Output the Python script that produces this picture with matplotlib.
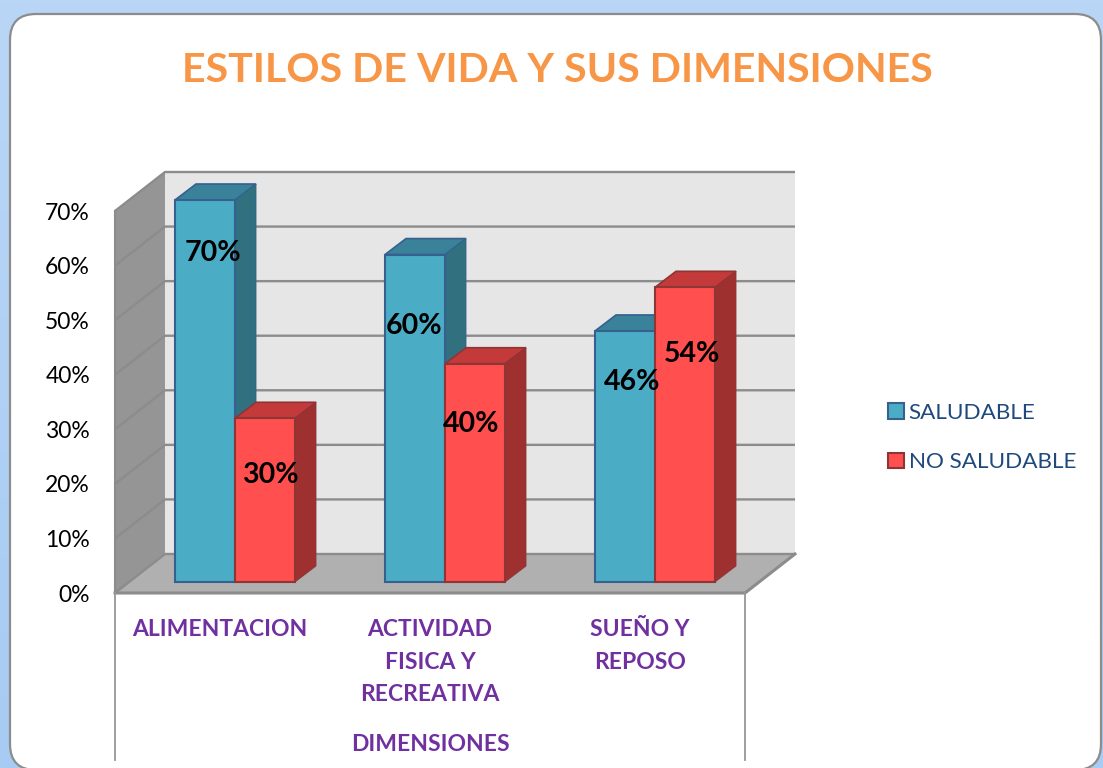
import matplotlib.pyplot as plt
import numpy as np
from matplotlib.patches import FancyBboxPatch, Patch, Polygon

# Chart values
categories = ["ALIMENTACION", "ACTIVIDAD\nFISICA Y\nRECREATIVA", "SUEÑO Y\nREPOSO"]
saludable = [70, 60, 46]
no_saludable = [30, 40, 54]
y_ticks = [0, 10, 20, 30, 40, 50, 60, 70]

W, H = 1103, 768
plt.rcParams["font.family"] = ["Lato", "DejaVu Sans"]

fig = plt.figure(figsize=(W / 100, H / 100), dpi=100)

# Background panel, in pixel coordinates
bg = fig.add_axes([0, 0, 1, 1], zorder=0)
bg.set_xlim(0, W)
bg.set_ylim(H, 0)
bg.axis("off")
grad = np.linspace(0, 1, 256).reshape(-1, 1)
bg.imshow(grad, extent=(0, W, H, 0), aspect="auto", cmap=plt.cm.colors.LinearSegmentedColormap.from_list(
    "blue", ["#B9D6F6", "#A8CBF3"]))
bg.set_xlim(0, W)
bg.set_ylim(H, 0)
panel = FancyBboxPatch((10, 14), 1091, 756, boxstyle="round,pad=0,rounding_size=26",
                       facecolor="white", edgecolor="#8C8C8C", linewidth=1.6)
bg.add_patch(panel)
bg.text(557, 71, "ESTILOS DE VIDA Y SUS DIMENSIONES", color="#F79646", fontsize=29.6,
        fontweight="bold", ha="center", va="center")

# Front plane of the 3D box
left, right, top, bottom = 115, 745, 211, 593
ax = fig.add_axes([left / W, 1 - bottom / H, (right - left) / W, (bottom - top) / H], zorder=1)
ax.set_xlim(0, 3)
ax.set_ylim(0, 70)
ax.patch.set_visible(False)
for s in ax.spines.values():
    s.set_visible(False)

px = 3 / (right - left)
py = 70 / (bottom - top)
wall_dx, wall_dy = 50 * px, 39 * py
bar_dx, bar_dy = 21 * px, 16 * py
base = 11 * py
bar_w = 60 * px
bar_left = 60 * px

GRID = "#8C8C8C"


def poly(points, color, z, edge="none", lw=0):
    ax.add_patch(Polygon(points, closed=True, facecolor=color, edgecolor=edge,
                         linewidth=lw, zorder=z, clip_on=False))


# Walls and floor
poly([(wall_dx, wall_dy), (3 + wall_dx, wall_dy), (3 + wall_dx, 70 + wall_dy), (wall_dx, 70 + wall_dy)],
     "#E6E6E6", 1)
poly([(0, 0), (wall_dx, wall_dy), (wall_dx, 70 + wall_dy), (0, 70)], "#959595", 1)
poly([(0, 0), (3, 0), (3 + wall_dx, wall_dy), (wall_dx, wall_dy)], "#B0B0B0", 1)

for t in y_ticks:
    ax.plot([0, wall_dx, 3 + wall_dx], [t, t + wall_dy, t + wall_dy], color=GRID, lw=1.7,
            zorder=2, clip_on=False, solid_capstyle="butt")
ax.plot([0, 3, 3 + wall_dx], [0, 0, wall_dy], color=GRID, lw=2.2, zorder=2, clip_on=False)
ax.plot([0, 0], [0, 70], color=GRID, lw=1.5, zorder=2, clip_on=False)

# Category separators below the floor
low = -167 * py
ax.plot([0, 0], [0, low], color="#969696", lw=1.3, clip_on=False, zorder=2)
ax.plot([3, 3], [0, low], color="#969696", lw=1.3, clip_on=False, zorder=2)


def bars3d(x_offset, values, face, top_c, side_c, edge, z):
    xs = np.arange(len(values)) + x_offset
    ax.bar(xs, values, bar_w, bottom=base, align="edge", color=face, edgecolor=edge,
           linewidth=1.5, zorder=z + 1, clip_on=False)
    for x, v in zip(xs, values):
        y = base + v
        poly([(x, y), (x + bar_w, y), (x + bar_w + bar_dx, y + bar_dy), (x + bar_dx, y + bar_dy)],
             top_c, z, edge, 1.2)
        poly([(x + bar_w, base), (x + bar_w + bar_dx, base + bar_dy), (x + bar_w + bar_dx, y + bar_dy),
              (x + bar_w, y)], side_c, z, edge, 0.6)


bars3d(bar_left, saludable, "#4BACC6", "#3A8299", "#31707F", "#35608F", 3)
bars3d(bar_left + bar_w, no_saludable, "#FF4F4F", "#C43A3A", "#9E3030", "#8E3535", 5)

# Data labels were placed by hand in the original, so offsets are from each bar's top
offsets_blue = [(8, 53), (-1, 71), (7, 51)]
offsets_red = [(5, 57), (-4, 60), (7, 67)]
for i, (a, b) in enumerate(zip(saludable, no_saludable)):
    ax.annotate(f"{a}%", (i + bar_left + bar_w / 2, base + a), xycoords="data",
                xytext=(offsets_blue[i][0] * 0.72, -offsets_blue[i][1] * 0.72), textcoords="offset points",
                ha="center", va="center", fontsize=20.5, fontweight="bold", color="black", zorder=9,
                annotation_clip=False)
    ax.annotate(f"{b}%", (i + bar_left + bar_w * 1.5, base + b), xycoords="data",
                xytext=(offsets_red[i][0] * 0.72, -offsets_red[i][1] * 0.72), textcoords="offset points",
                ha="center", va="center", fontsize=20.5, fontweight="bold", color="black", zorder=9,
                annotation_clip=False)

# Axes text
ax.set_yticks(y_ticks)
ax.set_yticklabels([f"{t}%" for t in y_ticks], fontsize=16.5, color="black")
ax.tick_params(axis="y", length=0, pad=18)
ax.set_xticks(np.arange(len(categories)) + 0.5)
ax.set_xticklabels(categories, fontsize=16.5, fontweight="bold", color="#7030A0", linespacing=1.67)
ax.tick_params(axis="x", length=0, pad=19)
ax.set_xlabel("DIMENSIONES", fontsize=16.5, fontweight="bold", color="#7030A0", labelpad=21)

# Legend
handles = [Patch(facecolor="#4BACC6", edgecolor="#35608F", linewidth=1.5, label="SALUDABLE"),
           Patch(facecolor="#FF4F4F", edgecolor="#8E3535", linewidth=1.5, label="NO SALUDABLE")]
fig.legend(handles=handles, loc="upper left", bbox_to_anchor=(888 / W, 1 - 403 / H), frameon=False,
           fontsize=16.2, labelcolor="#1F497D", handlelength=0.72, handleheight=0.7,
           handletextpad=0.2, labelspacing=1.3, borderpad=0, borderaxespad=0)

plt.savefig("out.png", dpi=100)
